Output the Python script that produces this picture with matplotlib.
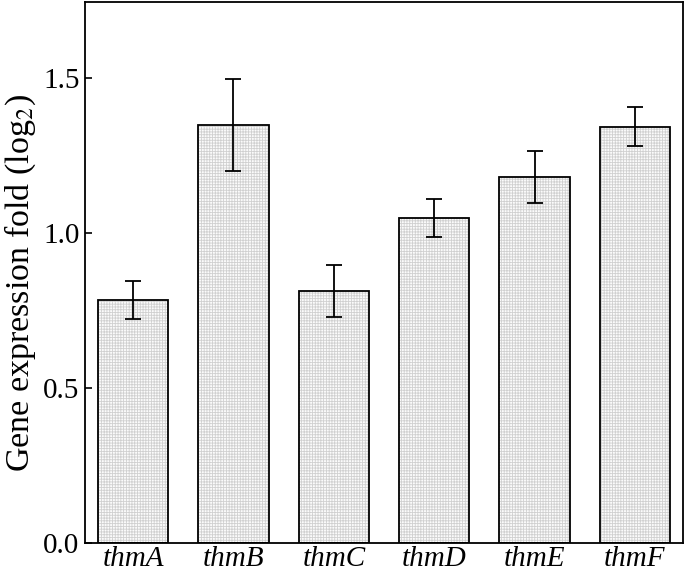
import matplotlib
matplotlib.use("Agg")
import matplotlib.pyplot as plt
import numpy as np

# gene expression data (log2 fold)
genes = ["thmA", "thmB", "thmC", "thmD", "thmE", "thmF"]
values = [0.784, 1.348, 0.813, 1.048, 1.181, 1.342]
errors = [0.062, 0.148, 0.085, 0.062, 0.083, 0.063]

plt.rcParams["font.family"] = ["Liberation Serif", "DejaVu Serif"]
plt.rcParams["mathtext.fontset"] = "stix"
plt.rcParams["hatch.linewidth"] = 0.6

fig = plt.figure(figsize=(6.85, 5.71), dpi=100)
ax = fig.add_axes([85 / 685, 28 / 571, 598 / 685, 541 / 571])

x = np.arange(len(genes))
# light grey grid-like fill, then black outline on top
ax.bar(x, values, width=0.7, color="#fbfbfb", edgecolor="#d0d0d0",
       hatch="++++++", linewidth=0, zorder=2)
ax.bar(x, values, width=0.7, fill=False, edgecolor="black", linewidth=1.3, zorder=3)
ax.errorbar(x, values, yerr=errors, fmt="none", ecolor="black",
            elinewidth=1.3, capsize=6, capthick=1.3, zorder=4)

ax.set_xlim(-0.48, 5.48)
ax.set_ylim(0, 1.745)
ax.set_yticks([0.0, 0.5, 1.0, 1.5])
ax.set_yticklabels(["0.0", "0.5", "1.0", "1.5"])
ax.set_xticks(x)
ax.set_xticklabels(genes, style="italic")
ax.tick_params(axis="y", direction="in", length=5, width=1.2, labelsize=21, pad=4)
ax.tick_params(axis="x", length=0, labelsize=21, pad=2)
ax.set_ylabel("Gene expression fold (log$_2$)", fontsize=24.5)
ax.yaxis.set_label_coords(-0.078, 0.48)
for s in ax.spines.values():
    s.set_linewidth(1.3)

fig.savefig("out.png", dpi=100)
